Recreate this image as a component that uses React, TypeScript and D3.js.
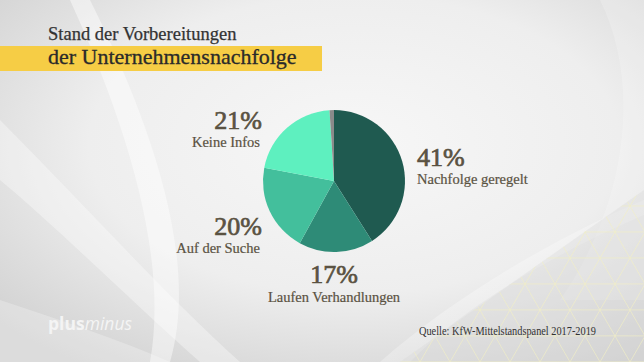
import React from 'react'
import * as d3 from 'd3'

// Shares of firms by state of succession planning (clockwise from 12 o'clock)
const categories = ['Nachfolge geregelt', 'Laufen Verhandlungen', 'Auf der Suche', 'Keine Infos', '']
const values = [41, 17, 20, 21, 1]
const colors = ['#1f5a50', '#2e8b77', '#43bf9c', '#5ef0bf', '#8a8a8a']

const title1 = 'Stand der Vorbereitungen'
const title2 = 'der Unternehmensnachfolge'
const source = 'Quelle: KfW-Mittelstandspanel 2017-2019'

const W = 644
const H = 362
const cx = 334
const cy = 181
const radius = 71

// where each label sits relative to the pie centre
const labelLayout = [
  { dx: 83, dy: -15, gap: 18, anchor: 'start' },
  { dx: 0, dy: 102, gap: 19, anchor: 'middle' },
  { dx: -72, dy: 54, gap: 18, anchor: 'end' },
  { dx: -72, dy: -52, gap: 18, anchor: 'end' },
]

const serif = '"Liberation Serif", "DejaVu Serif", serif'
const labelColor = '#5a5242'

const App = () => {
  const pie = d3.pie<number>().sort(null).value(d => d)
  const arcs = pie(values)
  const arc = d3.arc<d3.PieArcDatum<number>>().innerRadius(0).outerRadius(radius)

  // triangle grid for the bottom right corner
  const step = 30
  const h = step * Math.sqrt(3) / 2
  const grid: string[] = []
  for (let i = -20; i < 40; i++) {
    const y = 180 + i * h
    grid.push(`M300,${y}L${W},${y}`)
  }
  for (let i = -30; i < 40; i++) {
    const x0 = 300 + i * step
    grid.push(`M${x0},${H}L${x0 + 200 / Math.sqrt(3)},${H - 200}`)
    grid.push(`M${x0},${H}L${x0 - 200 / Math.sqrt(3)},${H - 200}`)
  }

  return (
    <svg width={W} height={H} style={{ position: 'absolute', left: 0, top: 0 }}>
      <defs>
        <radialGradient id="bg" cx="0.55" cy="0.4" r="0.75">
          <stop offset="0" stopColor="#f7f7f7" />
          <stop offset="0.55" stopColor="#eeeeee" />
          <stop offset="1" stopColor="#d0d0d0" />
        </radialGradient>
        <linearGradient id="sw" x1="0" y1="0" x2="1" y2="1">
          <stop offset="0" stopColor="#ffffff" stopOpacity="0.9" />
          <stop offset="1" stopColor="#ffffff" stopOpacity="0" />
        </linearGradient>
        <clipPath id="gridClip">
          <path d={`M400,${H}L${W},190L${W},${H}Z`} />
        </clipPath>
      </defs>
      <rect width={W} height={H} fill="url(#bg)" />

      {/* soft white swooshes */}
      <path d="M0,120 C80,200 160,290 240,362 L200,362 C130,300 60,230 0,180 Z" fill="#ffffff" opacity={0.35} />
      <path d="M90,0 C150,120 200,260 170,362 L150,362 C170,250 120,110 70,0 Z" fill="#ffffff" opacity={0.45} />
      <path d="M0,300 C60,320 120,340 170,362 L0,362 Z" fill="#ffffff" opacity={0.25} />
      <path d="M600,0 C640,80 630,200 560,300 L644,300 L644,0 Z" fill="#ffffff" opacity={0.2} />
      <path d="M380,362 C450,300 550,240 644,200 L644,215 C550,255 460,310 410,362 Z" fill="url(#sw)" opacity={0.6} />

      <g clipPath="url(#gridClip)">
        <rect x={300} y={180} width={344} height={182} fill="#d8d8d6" opacity={0.35} />
        <path d={grid.join('')} stroke="#f3efc4" strokeWidth={0.8} fill="none" opacity={0.8} />
      </g>

      {/* title */}
      <rect x={0} y={46} width={322} height={25} fill="#f6cd45" />
      <text x={48} y={40} fontFamily={serif} fontSize={18.5} fill="#333333" stroke="#333333" strokeWidth={0.25}>{title1}</text>
      <text x={48} y={64} fontFamily={serif} fontSize={22} fill="#2a2a2a" stroke="#2a2a2a" strokeWidth={0.3}>{title2}</text>

      {/* pie */}
      <g transform={`translate(${cx},${cy})`}>
        {arcs.map((a, i) => (
          <path key={i} d={arc(a) || ''} fill={colors[i]} />
        ))}
      </g>

      {/* labels */}
      {labelLayout.map((l, i) => (
        <g key={i} fill={labelColor} fontFamily={serif} textAnchor={l.anchor}>
          <text x={cx + l.dx} y={cy + l.dy} fontSize={26} stroke={labelColor} strokeWidth={0.7}>{values[i]}%</text>
          <text x={cx + l.dx + (l.anchor === 'end' ? -2 : 0)} y={cy + l.dy + l.gap} fontSize={14.5} stroke={labelColor} strokeWidth={0.2}>{categories[i]}</text>
        </g>
      ))}

      {/* footer */}
      <text x={48} y={330} fontFamily='"Open Sans", "DejaVu Sans", sans-serif' fontSize={17.5} fill="#f4f4f4">
        <tspan fontWeight="bold">plus</tspan>
        <tspan fontStyle="italic">minus</tspan>
      </text>
      <text x={419} y={335} fontFamily={serif} fontSize={12} fill="#333333" textLength={177} lengthAdjust="spacingAndGlyphs">{source}</text>
    </svg>
  )
}

export default App
